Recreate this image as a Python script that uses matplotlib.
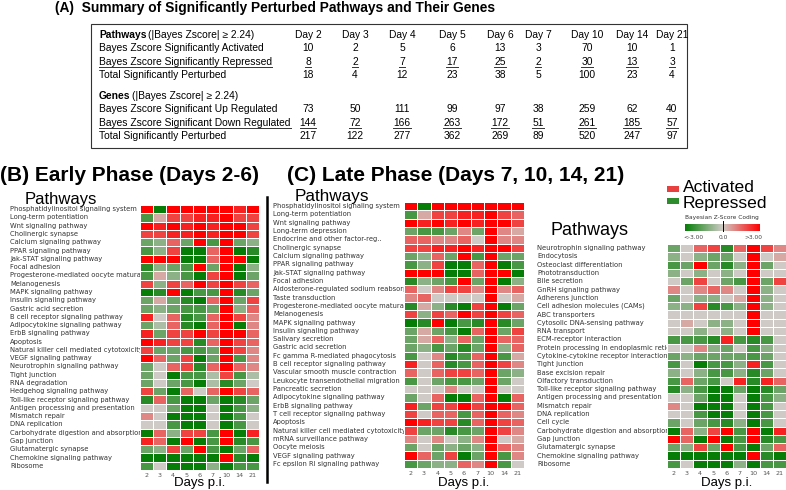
import numpy as np
import matplotlib
matplotlib.use("Agg")
import matplotlib.pyplot as plt
from matplotlib.colors import LinearSegmentedColormap
from matplotlib.lines import Line2D
from matplotlib.patches import Rectangle

W, H = 786, 490

DAYS = ["2", "3", "4", "5", "6", "7", "10", "14", "21"]
TABLE_DAYS = ["Day 2", "Day 3", "Day 4", "Day 5", "Day 6", "Day 7", "Day 10", "Day 14", "Day 21"]

PW_ACTIVATED = [10, 2, 5, 6, 13, 3, 70, 10, 1]
PW_REPRESSED = [8, 2, 7, 17, 25, 2, 30, 13, 3]
PW_TOTAL = [18, 4, 12, 23, 38, 5, 100, 23, 4]
GENE_UP = [73, 50, 111, 99, 97, 38, 259, 62, 40]
GENE_DOWN = [144, 72, 166, 263, 172, 51, 261, 185, 57]
GENE_TOTAL = [217, 122, 277, 362, 269, 89, 520, 247, 97]

B_NAMES = [
    "Phosphatidylinositol signaling system", "Long-term potentiation",
    "Wnt signaling pathway", "Cholinergic synapse", "Calcium signaling pathway",
    "PPAR signaling pathway", "Jak-STAT signaling pathway", "Focal adhesion",
    "Progesterone-mediated oocyte maturation", "Melanogenesis",
    "MAPK signaling pathway", "Insulin signaling pathway", "Gastric acid secretion",
    "B cell receptor signaling pathway", "Adipocytokine signaling pathway",
    "ErbB signaling pathway", "Apoptosis", "Natural killer cell mediated cytotoxicity",
    "VEGF signaling pathway", "Neurotrophin signaling pathway", "Tight junction",
    "RNA degradation", "Hedgehog signaling pathway", "Toll-like receptor signaling pathway",
    "Antigen processing and presentation", "Mismatch repair", "DNA replication",
    "Carbohydrate digestion and absorption", "Gap junction", "Glutamatergic synapse",
    "Chemokine signaling pathway", "Ribosome",
]
B_Z = [
    [3, -3, 3, 3, 3, 3, 3, 2.5, 3],
    [-2, 0.5, 2, 2, 2.5, 2.5, 3, 2, 2],
    [3, 2.5, 3, 2.5, 3, 2.5, 3, 3, 2],
    [2, 2, 2.5, 2.5, 3, 2.5, 3, 3, 2],
    [-1.5, -1, 1.5, -1.5, 3, -2, 3, -1.5, -1],
    [-2, -1, 2, -3, -3, 1.5, 3, -3, -2.5],
    [3, 3, 3, -3, -3, 1.5, 3, 3, -3],
    [-2.5, -1, -1.5, -2, 3, -1.5, 3, -3, -1],
    [-2, 0.5, -1, -2, -3, 2, 3, -3, -1.5],
    [2, -1, 2, 1.5, 3, 2, 3, 2, 1.5],
    [-3, -2.5, 3, -3, -2, -2, 3, -2.5, -1.5],
    [-1.5, 0.5, -1.5, -2.5, -3, 1.5, 3, -1.5, 2],
    [-1.5, -1, -1.5, -2, -2, -1.5, 3, -1, 1.5],
    [2.5, 0, 1.5, -2.5, -2, 1.5, 3, 2, 1],
    [-1.5, -0.5, 1.5, -2.5, -3, 1.5, 3, -3, 1],
    [2.5, -1.5, 2, 2, 3, 2, 3, 3, 1.5],
    [3, 2.5, 2, 2, -2.5, 1.5, 3, 2, 1.5],
    [2, -1.5, -1.5, -2, -2, -1.5, 3, 2, 1],
    [3, 1.5, -1.5, 2, -3, -1.5, 3, -2, 1],
    [-1.5, 0, 1.5, 2, -2.5, 1.5, 3, 1.5, 1],
    [-1.5, 0, -3, -2, -2, -0.5, 2, -2, -0.5],
    [-1.5, 0, -1.5, -2, -3, -0.5, -2.5, -1.5, 0],
    [2, -1.5, -3, 1.5, 0, 1.5, 3, 2, 1.5],
    [-2.5, 1.5, -2, -3, -3, -1.5, -3, -2.5, -1.5],
    [0, 0, -1.5, -3, -3, 0, -3, -2, -1],
    [1, 0, -3, -3, -3, 0, -3, -2, 0],
    [0, 0, -2, -3, -3, 0, -3, -2, 0],
    [-3, 1.5, -1, 2, 2, -2, 3, -3, 2.5],
    [2.5, 1.5, -3, 3, -3, -2, 3, -2.5, -2],
    [-1.5, -1, 2, -1.5, 3, -2, -3, -1.5, 1.5],
    [-3, -3, -3, -3, -3, -3, 3, -2.5, -3],
    [-2, 0, -3, -3, -3, -1, -3, -2, -2],
]

CL_NAMES = [
    "Phosphatidylinositol signaling system", "Long-term potentiation",
    "Wnt signaling pathway", "Long-term depression", "Endocrine and other factor-reg..",
    "Cholinergic synapse", "Calcium signaling pathway", "PPAR signaling pathway",
    "Jak-STAT signaling pathway", "Focal adhesion",
    "Aldosterone-regulated sodium reabsorption", "Taste transduction",
    "Progesterone-mediated oocyte maturation", "Melanogenesis", "MAPK signaling pathway",
    "Insulin signaling pathway", "Salivary secretion", "Gastric acid secretion",
    "Fc gamma R-mediated phagocytosis", "B cell receptor signaling pathway",
    "Vascular smooth muscle contraction", "Leukocyte transendothelial migration",
    "Pancreatic secretion", "Adipocytokine signaling pathway", "ErbB signaling pathway",
    "T cell receptor signaling pathway", "Apoptosis",
    "Natural killer cell mediated cytotoxicity", "mRNA surveillance pathway",
    "Oocyte meiosis", "VEGF signaling pathway", "Fc epsilon RI signaling pathway",
]
CL_Z = [
    [3, -3, 3, 3, 3, 3, 3, 3, 3],
    [-2, 0.5, 2, 2, 2.5, 2.5, 3, 2, 1.5],
    [3, 2.5, 3, 2.5, 3, 2.5, 3, 3, 2],
    [-1.5, -2, -2, -1.5, 1, -1.5, 3, 1, 0.5],
    [1.5, 1.5, 1, 1, 1.5, 0, 3, 1, 1],
    [2, 2, 2.5, 2.5, 3, 2.5, 3, 3, 2],
    [-1.5, -1, 1.5, -1.5, 3, -2, 3, -1.5, -1.5],
    [-2, -1, 2, -3, -3, 1.5, 3, -3, -2],
    [3, 3, 3, -3, -3, 1.5, 3, 3, -3],
    [-2.5, -1, -1.5, -2, 3, -1.5, 3, -3, -1],
    [1.5, 0, 1, 2, 2, 1, 3, 1, 1.5],
    [1, 1.5, 0, 0, 0, 0, 3, 0, 0.5],
    [-2.5, 0.5, -1, -2.5, -3, 2, 3, -3, -1.5],
    [2, -1, 2, 1.5, 3, 2, 3, 2, 1.5],
    [-3, -2.5, 3, -3, -2, -2.5, 3, -2.5, -1.5],
    [-1.5, 0.5, -1.5, -2, -3, 1.5, 3, -1.5, 2],
    [-1.5, 0.5, 1.5, -1, 1.5, -1.5, 3, 1.5, 1.5],
    [-1.5, -1, -2, -1.5, -2.5, -1.5, 3, -1, 1.5],
    [-2, 0, 1, -2.5, -2, 1.5, 3, -2, 0.5],
    [2.5, 0, 1.5, -2.5, -2, 1.5, 3, 2, 1],
    [1.5, 0, 1.5, 2, 2, 1.5, 3, -1.5, -1],
    [-2, 0, -1.5, -2, -2, -1.5, 3, -1.5, 0],
    [0, 0, 0, 1, 0, 0, 3, 0, 0],
    [-1.5, 0, 1.5, -3, -3, 1.5, 3, -3, 1.5],
    [2.5, -1.5, 2, 2, 3, 2, 3, 3, 1.5],
    [2, 0, 1.5, 1.5, -2, 1.5, 3, 1.5, 1],
    [3, 2.5, 2, 2, -2.5, 1.5, 3, 2, 1.5],
    [2, -1.5, -1.5, -2.5, -2, -1.5, 3, 2, 1],
    [1, 0, 1, 0, -1, 1, 3, 0, 0.5],
    [-1.5, 0, -1.5, -1, -1.5, -1, 3, 1.5, 1],
    [3, 1.5, -1.5, 2, -3, -1.5, 3, -2, 1],
    [-2, -1.5, -1, -1, 1.5, 1, 3, -2, 0],
]

CR_NAMES = [
    "Neurotrophin signaling pathway", "Endocytosis", "Osteoclast differentiation",
    "Phototransduction", "Bile secretion", "GnRH signaling pathway",
    "Adherens junction", "Cell adhesion molecules (CAMs)", "ABC transporters",
    "Cytosolic DNA-sensing pathway", "RNA transport", "ECM-receptor interaction",
    "Protein processing in endoplasmic reticulum", "Cytokine-cytokine receptor interaction",
    "Tight junction", "Base excision repair", "Olfactory transduction",
    "Toll-like receptor signaling pathway", "Antigen processing and presentation",
    "Mismatch repair", "DNA replication", "Cell cycle",
    "Carbohydrate digestion and absorption", "Gap junction", "Glutamatergic synapse",
    "Chemokine signaling pathway", "Ribosome",
]
CR_Z = [
    [-1.5, 0, 1.5, 2, -2.5, 1.5, 3, 2, 1],
    [-1, 0, -1, -1.5, -1.5, 0, 3, 0, 0.5],
    [-2, -1.5, 3, -1.5, -2.5, -1, 3, -1.5, 0],
    [-1, 0, -1, 0, -1, 0, 3, 0, 0],
    [0, -1.5, 2, 0, -1.5, -2, 3, -1.5, 2],
    [1, 0, 1, 1.5, 1, 0, 3, -1, 0],
    [-1.5, 0, -1, -1, 0, 0.5, 3, -1, 0],
    [-1, -1, 2, -2.5, -2, -1, 3, -1, 0],
    [0, 0, 0, 0, 0, 0, 3, 0, 0],
    [0, 0.5, 0, -1, -1, 0, 3, 0, 0],
    [0, 0, -1, 0, -1, 0, 3, 0, 0],
    [-2, -2, -2, -2.5, 2.5, -2, -2.5, -2, 0],
    [0, 0, 1, -1, -1.5, 0, -2, -1, 0],
    [-1.5, -1, -1.5, -1.5, -1.5, -1.5, -2, -1.5, 0],
    [-2, 0, -3, -2, -2, -1, 2.5, -2, 0],
    [-1, 0, -1, -2, -2, -1, -2.5, -1.5, 0],
    [-2, 1.5, -1.5, -2, 0, 2.5, -2.5, 2.5, 1.5],
    [-2.5, -1, -2, -3, -3, -1.5, -3, -2.5, -1.5],
    [0, 0, -1.5, -3, -3, 0, -3, -2, -1],
    [1, 0, -3, -3, -3, 0, -3, -2, 0],
    [0, 0, -2, -3, -3, 0, -3, -2, 0],
    [-1.5, 0, -1.5, -2, -2.5, -1, -3, -2, 0],
    [-3, 1.5, -1, 2, 3, -2, 3, -3, 2.5],
    [3, 1.5, -3, 3, -3, -2, 3, -2.5, -2],
    [-1.5, -1, 2, -1.5, 3, -2, -3, -1.5, 1.5],
    [-3, -3, -3, -3, -3, -3, 3, -2.5, -3],
    [-2, 0, -3, -3, -3, -1, -3, -2, -2],
]

CMAP = LinearSegmentedColormap.from_list(
    "zscore", [(0, "#067d06"), (0.5, "#cfcbc6"), (1, "#ff0000")])
SANS = ["Liberation Sans", "DejaVu Sans"]


def fx(px):
    return px / W


def fy(py):
    return 1 - py / H


fig = plt.figure(figsize=(W / 100, H / 100), dpi=100)
renderer = fig.canvas.get_renderer()
inv = fig.transFigure.inverted()


def text_right_edge(t):
    bb = t.get_window_extent(renderer)
    return inv.transform((bb.x1, bb.y0))


def underline(t, py):
    # line a few px below the row centre, spanning the text
    bb = t.get_window_extent(renderer)
    (x0, _), (x1, _) = inv.transform([(bb.x0, bb.y0), (bb.x1, bb.y0)])
    y = fy(py + 5)
    fig.add_artist(Line2D([x0, x1], [y, y], transform=fig.transFigure,
                          color="#333333", lw=0.7))


# ---- (A) summary table ----
fig.text(fx(55), fy(8), "(A)  Summary of Significantly Perturbed Pathways and Their Genes",
         family=SANS, fontsize=9.9, fontweight="bold", va="center", ha="left")
fig.add_artist(Rectangle((fx(91), fy(148)), fx(687) - fx(91), fy(24) - fy(148),
                         transform=fig.transFigure, fill=False, lw=0.8, color="#333333"))

COL_X = [308, 355, 402, 452, 500, 538, 587, 632, 672]
LAB_X = 99
TFS = 7.4


def header(py, bold_word):
    t = fig.text(fx(LAB_X), fy(py), bold_word, family=SANS, fontsize=TFS,
                 fontweight="bold", va="center")
    x1, _ = text_right_edge(t)
    fig.text(x1 + 2 / W, fy(py), "(|Bayes Zscore| \u2265 2.24)", family=SANS,
             fontsize=TFS, va="center")


def table_row(py, label, values, under=False):
    t = fig.text(fx(LAB_X), fy(py), label, family=SANS, fontsize=TFS, va="center")
    if under:
        underline(t, py)
    for x, v in zip(COL_X, values):
        tv = fig.text(fx(x), fy(py), str(v), family=SANS, fontsize=TFS,
                      va="center", ha="center")
        if under:
            underline(tv, py)


header(34.7, "Pathways")
for x, d in zip(COL_X, TABLE_DAYS):
    fig.text(fx(x), fy(34.7), d, family=SANS, fontsize=TFS, va="center", ha="center")
table_row(48.3, "Bayes Zscore Significantly Activated", PW_ACTIVATED)
table_row(61.7, "Bayes Zscore Significantly Repressed", PW_REPRESSED, under=True)
table_row(75.3, "Total Significantly Perturbed", PW_TOTAL)
header(95.7, "Genes")
table_row(109, "Bayes Zscore Significant Up Regulated", GENE_UP)
table_row(122.7, "Bayes Zscore Significant Down Regulated", GENE_DOWN, under=True)
table_row(136.3, "Total Significantly Perturbed", GENE_TOTAL)


# ---- heatmaps ----
def heatmap(names, z, lab_left, left, right, top, bottom, xlabel_y):
    z = np.array(z, dtype=float)
    n = len(names)
    ax = fig.add_axes([fx(left), fy(bottom), fx(right) - fx(left), fy(top) - fy(bottom)])
    mesh = ax.pcolormesh(np.arange(len(DAYS) + 1), np.arange(n + 1), z, cmap=CMAP,
                         vmin=-3, vmax=3, edgecolors="white", linewidth=0.7)
    ax.set_ylim(n, 0)
    ax.set_xlim(0, len(DAYS))
    ax.set_xticks(np.arange(len(DAYS)) + 0.5, DAYS)
    ax.set_yticks([])
    ax.tick_params(axis="x", length=0, labelsize=4.6, labelcolor="#555555", pad=2.5)
    for s in ax.spines.values():
        s.set_visible(False)
    fig.text(fx((left + right) / 2), fy(xlabel_y), "Days p.i.", family=SANS,
             fontsize=9.5, ha="center", va="center")

    lab = fig.add_axes([fx(lab_left), fy(bottom), fx(left) - fx(lab_left) - 0.5 / W,
                        fy(top) - fy(bottom)])
    lab.set_ylim(n, 0)
    lab.set_xlim(0, 1)
    lab.axis("off")
    for i, name in enumerate(names):
        lab.text(0, i + 0.5, name, fontsize=4.9, color="#333333", va="center",
                 ha="left", clip_on=True)
    return mesh


fig.text(fx(0), fy(181), "(B) Early Phase (Days 2-6)", family=SANS, fontsize=15,
         fontweight="bold", va="baseline")
fig.text(fx(25), fy(204), "Pathways", family=SANS, fontsize=12, va="baseline")
heatmap(B_NAMES, B_Z, 10, 140, 259, 205, 470, 483)

fig.add_artist(Line2D([fx(267), fx(267)], [fy(197), fy(482)], transform=fig.transFigure,
                      color="black", lw=1.8))

fig.text(fx(287), fy(181), "(C) Late Phase (Days 7, 10, 14, 21)", family=SANS,
         fontsize=15, fontweight="bold", va="baseline")
fig.text(fx(295), fy(200.5), "Pathways", family=SANS, fontsize=12.3, va="baseline")
heatmap(CL_NAMES, CL_Z, 273, 404, 524, 202, 468, 483)

fig.text(fx(550), fy(235), "Pathways", family=SANS, fontsize=13, va="baseline")
mesh = heatmap(CR_NAMES, CR_Z, 537, 667, 786, 244, 468, 483)

# ---- legend ----
fig.add_artist(Rectangle((fx(667), fy(192)), 12 / W, 6 / H, transform=fig.transFigure,
                         color="#e8403f", lw=0))
fig.add_artist(Rectangle((fx(667), fy(204)), 12 / W, 6 / H, transform=fig.transFigure,
                         color="#2e8b2e", lw=0))
fig.text(fx(683), fy(192), "Activated", family=SANS, fontsize=12.6, va="baseline")
fig.text(fx(683), fy(208), "Repressed", family=SANS, fontsize=12.6, va="baseline")

cax = fig.add_axes([fx(685), fy(231), 75 / W, 7 / H])
cb = fig.colorbar(mesh, cax=cax, orientation="horizontal")
cb.set_ticks([])
cb.outline.set_visible(False)
fig.add_artist(Line2D([fx(722.5), fx(722.5)], [fy(221), fy(231)], transform=fig.transFigure,
                      color="black", lw=0.7))
fig.text(fx(722), fy(218), "Bayesian Z-Score Coding", fontsize=4.2, color="#333333",
         ha="center", va="center")
for px, s in [(693, "<-3.00"), (723, "0.0"), (753, ">3.00")]:
    fig.text(fx(px), fy(237), s, fontsize=4.2, color="#444444", ha="center", va="center")

fig.savefig("out.png", dpi=100)
